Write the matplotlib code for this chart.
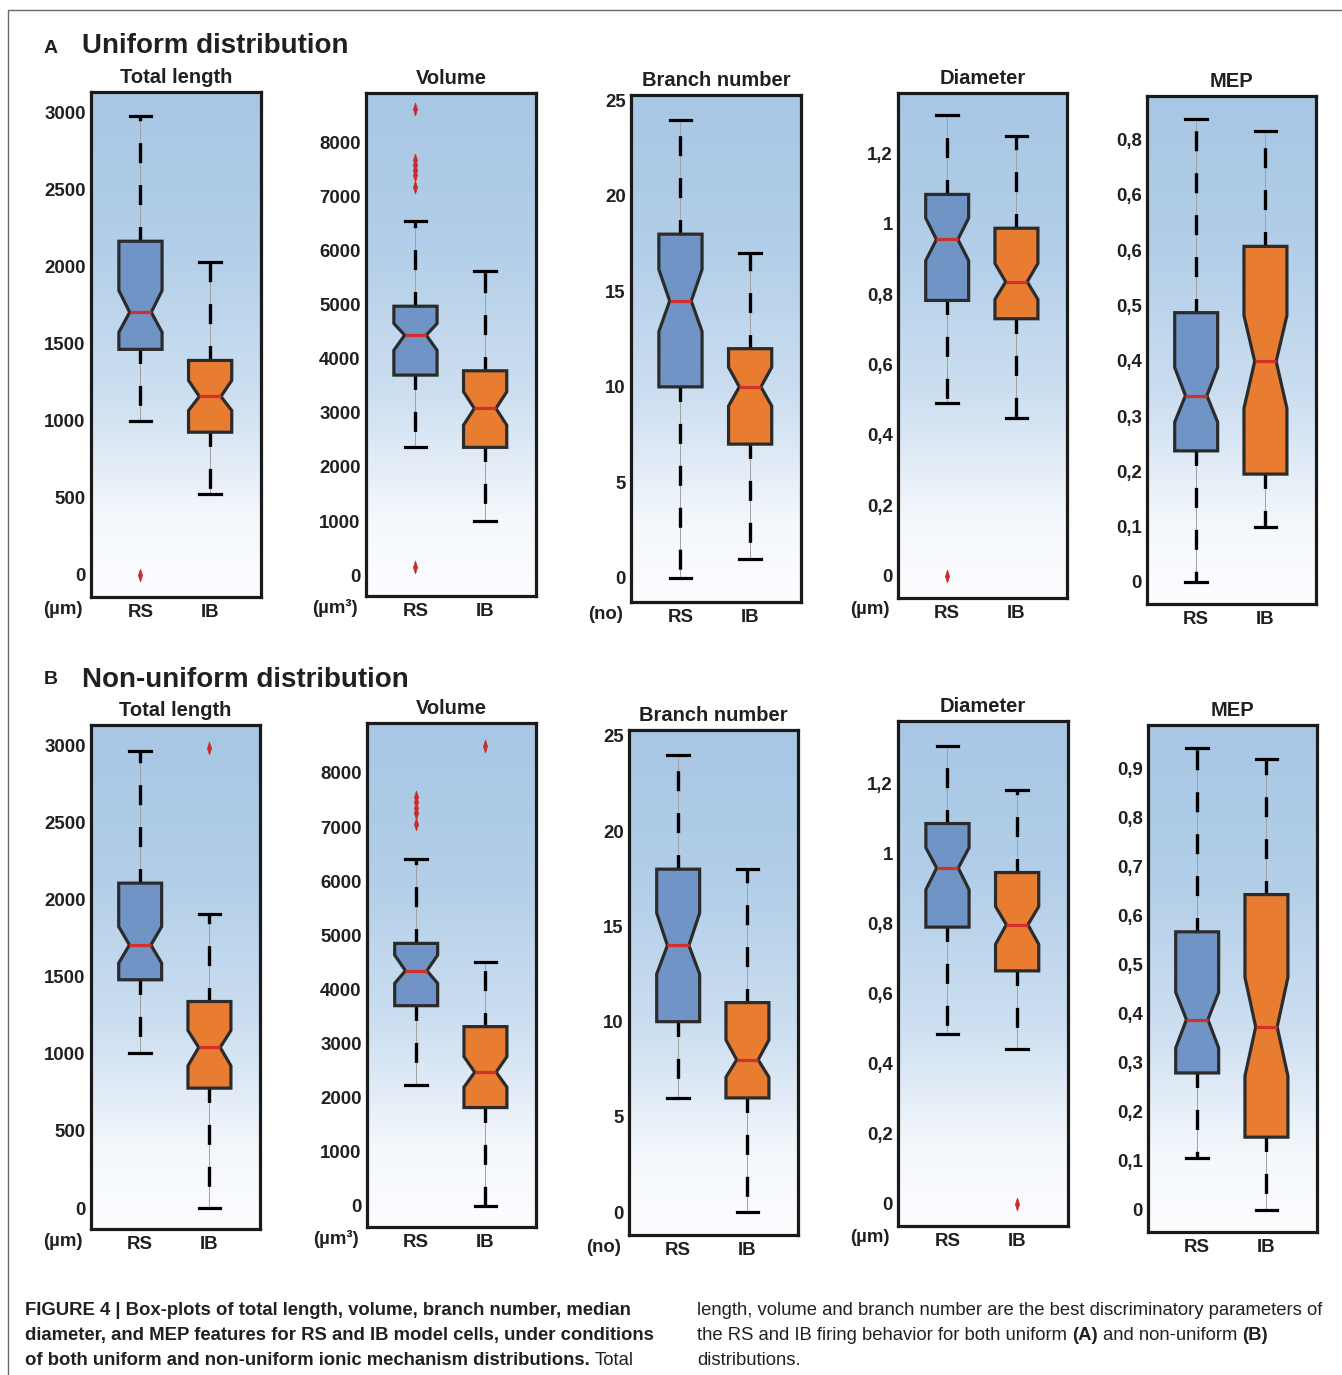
import numpy as np
import matplotlib
matplotlib.use('Agg')
import matplotlib.pyplot as plt
from matplotlib.lines import Line2D

plt.rcParams['font.family'] = ['Liberation Sans', 'DejaVu Sans']
plt.rcParams['lines.scale_dashes'] = False

# box stats for each panel: [whislo, q1, cilo, med, cihi, q3, whishi]
# A - uniform distribution
uni_rs_length = [1000, 1462, 1573, 1703, 1844, 2164, 2980]
uni_ib_length = [524, 924, 1065, 1156, 1260, 1390, 2028]
uni_rs_volume = [2370, 3700, 4160, 4440, 4655, 4975, 6550]
uni_ib_volume = [1005, 2363, 2775, 3084, 3391, 3780, 5629]
uni_rs_branch = [0, 10, 12.9, 14.5, 16.15, 18, 24]
uni_ib_branch = [1, 7, 9.0, 10, 11.03, 12, 17]
uni_rs_diam = [0.49, 0.782, 0.895, 0.955, 1.016, 1.083, 1.308]
uni_ib_diam = [0.448, 0.730, 0.785, 0.835, 0.887, 0.987, 1.250]
uni_rs_mep = [0.0, 0.237, 0.289, 0.337, 0.388, 0.487, 0.837]
uni_ib_mep = [0.099, 0.195, 0.314, 0.399, 0.482, 0.607, 0.815]

# outliers (uniform)
uni_rs_length_out = [0]
uni_rs_volume_out = [8630, 7690, 7590, 7490, 7400, 7180, 150]
uni_rs_diam_out = [0.0]

# B - non-uniform distribution
non_rs_length = [1005, 1481, 1589, 1707, 1826, 2108, 2966]
non_ib_length = [0, 778, 923, 1042, 1152, 1340, 1907]
non_rs_volume = [2234, 3698, 4112, 4345, 4634, 4850, 6407]
non_ib_volume = [0, 1815, 2192, 2469, 2757, 3311, 4511]
non_rs_branch = [6, 10, 12.5, 14, 15.7, 18, 24]
non_ib_branch = [0, 6, 7.09, 8, 9.04, 11, 18]
non_rs_diam = [0.486, 0.790, 0.897, 0.959, 1.017, 1.086, 1.307]
non_ib_diam = [0.443, 0.665, 0.741, 0.797, 0.849, 0.946, 1.183]
non_rs_mep = [0.106, 0.279, 0.330, 0.388, 0.4435, 0.567, 0.942]
non_ib_mep = [0.0, 0.148, 0.273, 0.373, 0.474, 0.643, 0.919]

# outliers (non-uniform)
non_ib_length_out = [2983]
non_rs_volume_out = [7560, 7460, 7360, 7260, 7060]
non_ib_volume_out = [8493]
non_ib_diam_out = [0.0]

groups = ['RS', 'IB']
titles = ['Total length', 'Volume', 'Branch number', 'Diameter', 'MEP']
units = ['(µm)', '(µm³)', '(no)', '(µm)', '']

length_ticks = [0, 500, 1000, 1500, 2000, 2500, 3000]
volume_ticks = [0, 1000, 2000, 3000, 4000, 5000, 6000, 7000, 8000]
branch_ticks = [0, 5, 10, 15, 20, 25]
diam_ticks = [0, 0.2, 0.4, 0.6, 0.8, 1.0, 1.2]
diam_labels = ['0', '0,2', '0,4', '0,6', '0,8', '1', '1,2']
mep_a_ticks = [0, 0.1, 0.2, 0.3, 0.4, 0.5, 0.6, 0.7, 0.8]
mep_a_labels = ['0', '0,1', '0,2', '0,3', '0,4', '0,5', '0,6', '0,6', '0,8']
mep_b_ticks = [0, 0.1, 0.2, 0.3, 0.4, 0.5, 0.6, 0.7, 0.8, 0.9]
mep_b_labels = ['0', '0,1', '0,2', '0,3', '0,4', '0,5', '0,6', '0,7', '0,8', '0,9']

W, H = 1342, 1375
fig = plt.figure(figsize=(W / 100, H / 100), dpi=100)
fig.patch.set_facecolor('white')

RS_COL = '#7094c6'
IB_COL = '#e87d32'
TXT = '#231f20'

# vertical gradient used behind every panel
stops = [0, 0.3, 0.6, 0.85, 1.0]
reds = [168, 178, 205, 245, 252]
greens = [199, 206, 223, 248, 253]
blues = [229, 232, 241, 252, 255]
f = np.linspace(0, 1, 256)
grad = np.stack([np.interp(f, stops, reds), np.interp(f, stops, greens),
                 np.interp(f, stops, blues)], axis=1)[:, None, :] / 255.0

# slim vertical marker for the outliers
flier_marker = [(0, -1), (0.32, 0), (0, 1), (-0.32, 0), (0, -1)]


def make_stats(vals, fliers):
    return dict(whislo=vals[0], q1=vals[1], cilo=vals[2], med=vals[3],
                cihi=vals[4], q3=vals[5], whishi=vals[6], fliers=fliers)


def panel(box, rs, ib, rs_out, ib_out, title, ylim, ticks, labels, unit):
    l, t, r, b = box
    ax = fig.add_axes([l / W, 1 - b / H, (r - l) / W, (b - t) / H])
    ax.imshow(grad, extent=[0, 1, 0, 1], transform=ax.transAxes,
              aspect='auto', zorder=0, interpolation='bilinear')
    res = ax.bxp([make_stats(rs, rs_out), make_stats(ib, ib_out)],
                 positions=[1, 2], widths=0.62, patch_artist=True,
                 shownotches=True, showfliers=True,
                 boxprops=dict(edgecolor='#2b2b2b', linewidth=2.3),
                 medianprops=dict(color='#d3302c', linewidth=2.3),
                 whiskerprops=dict(color='black', linewidth=2.4),
                 capprops=dict(color='black', linewidth=2.3),
                 flierprops=dict(marker=flier_marker, markersize=9,
                                 markerfacecolor='#cf2a2a',
                                 markeredgecolor='#cf2a2a', markeredgewidth=0.6))
    res['boxes'][0].set_facecolor(RS_COL)
    res['boxes'][1].set_facecolor(IB_COL)
    for w in res['whiskers']:
        xd, yd = w.get_data()
        ax.plot(xd, yd, color='#a0a0a0', lw=0.7, zorder=1.8)
        w.set_linestyle((4, (14.4, 15.8)))
        w.set_zorder(1.9)
    ax.set_xlim(0.29, 2.73)
    ax.set_ylim(*ylim)
    ax.set_yticks(ticks)
    ax.set_yticklabels(labels)
    ax.set_xticks([1, 2])
    ax.set_xticklabels(groups)
    ax.tick_params(length=0, labelsize=13.4, colors=TXT)
    ax.tick_params(axis='y', pad=3.8)
    ax.tick_params(axis='x', pad=5)
    for lab in ax.get_xticklabels() + ax.get_yticklabels():
        lab.set_fontweight('bold')
    for sp in ax.spines.values():
        sp.set_linewidth(2.3)
        sp.set_color('#1a1a1a')
    ax.annotate(title, xy=(0.5, 1), xycoords='axes fraction', xytext=(0, 9),
                textcoords='offset pixels', ha='center', va='baseline',
                fontsize=14.5, fontweight='bold', color=TXT)
    if unit:
        ax.annotate(unit, xy=(0, 0), xycoords='axes fraction', xytext=(-8, -12),
                    textcoords='offset pixels', ha='right', va='center',
                    fontsize=13.4, fontweight='bold', color=TXT)
    return ax


# row A
panel((91, 92, 261, 597), uni_rs_length, uni_ib_length, uni_rs_length_out, [],
      titles[0], (-146, 3133), length_ticks, length_ticks, units[0])
panel((366, 93, 536, 596), uni_rs_volume, uni_ib_volume, uni_rs_volume_out, [],
      titles[1], (-388, 8921), volume_ticks, volume_ticks, units[1])
panel((631, 95, 801, 602), uni_rs_branch, uni_ib_branch, [], [],
      titles[2], (-1.27, 25.29), branch_ticks, branch_ticks, units[2])
panel((898, 93, 1067, 598), uni_rs_diam, uni_ib_diam, uni_rs_diam_out, [],
      titles[3], (-0.063, 1.371), diam_ticks, diam_labels, units[3])
panel((1147, 96, 1316, 604), uni_rs_mep, uni_ib_mep, [], [],
      titles[4], (-0.040, 0.879), mep_a_ticks, mep_a_labels, units[4])

# row B
panel((91, 725, 260, 1229), non_rs_length, non_ib_length, [], non_ib_length_out,
      titles[0], (-136, 3134), length_ticks, length_ticks, units[0])
panel((367, 723, 536, 1227), non_rs_volume, non_ib_volume, non_rs_volume_out, non_ib_volume_out,
      titles[1], (-393, 8924), volume_ticks, volume_ticks, units[1])
panel((629, 730, 798, 1235), non_rs_branch, non_ib_branch, [], [],
      titles[2], (-1.19, 25.3), branch_ticks, branch_ticks, units[2])
panel((898, 721, 1068, 1226), non_rs_diam, non_ib_diam, [], non_ib_diam_out,
      titles[3], (-0.064, 1.379), diam_ticks, diam_labels, units[3])
panel((1148, 725, 1317, 1232), non_rs_mep, non_ib_mep, [], [],
      titles[4], (-0.0455, 0.989), mep_b_ticks, mep_b_labels, units[4])

# section headings
fig.text(44 / W, 1 - 53.3 / H, 'A', fontsize=14, fontweight='bold', color=TXT, va='baseline')
fig.text(82 / W, 1 - 53.3 / H, 'Uniform distribution', fontsize=20, fontweight='bold',
         color=TXT, va='baseline')
fig.text(44 / W, 1 - 684.5 / H, 'B', fontsize=14, fontweight='bold', color=TXT, va='baseline')
fig.text(82 / W, 1 - 686.7 / H, 'Non-uniform distribution', fontsize=20, fontweight='bold',
         color=TXT, va='baseline')

# thin frame round the figure
fig.add_artist(Line2D([8 / W, 8 / W, 1], [0, 1 - 10 / H, 1 - 10 / H],
                      transform=fig.transFigure, color='#6a6a6a', lw=1.0))

# caption with mixed weights
renderer = fig.canvas.get_renderer()
CAP = 13.3


def text_width(s, weight):
    t = fig.text(0, 0, s, fontsize=CAP, fontweight=weight)
    w = t.get_window_extent(renderer).width
    t.remove()
    return w


space_w = text_width('a a', 'normal') - text_width('aa', 'normal')


def runs(x, y, parts):
    for i, (s, weight) in enumerate(parts):
        if i > 0:
            x += space_w
        t = fig.text(x / W, 1 - y / H, s, fontsize=CAP, fontweight=weight,
                     color=TXT, va='baseline', ha='left')
        x += t.get_window_extent(renderer).width


runs(25, 1315, [('FIGURE 4 | Box-plots of total length, volume, branch number, median', 'bold')])
runs(25, 1340, [('diameter, and MEP features for RS and IB model cells, under conditions', 'bold')])
runs(25, 1365, [('of both uniform and non-uniform ionic mechanism distributions.', 'bold'),
                ('Total', 'normal')])
runs(697, 1315, [('length, volume and branch number are the best discriminatory parameters of', 'normal')])
runs(697, 1340, [('the RS and IB firing behavior for both uniform', 'normal'), ('(A)', 'bold'),
                 ('and non-uniform', 'normal'), ('(B)', 'bold')])
runs(697, 1365, [('distributions.', 'normal')])

fig.savefig('out.png', dpi=100, facecolor='white')
